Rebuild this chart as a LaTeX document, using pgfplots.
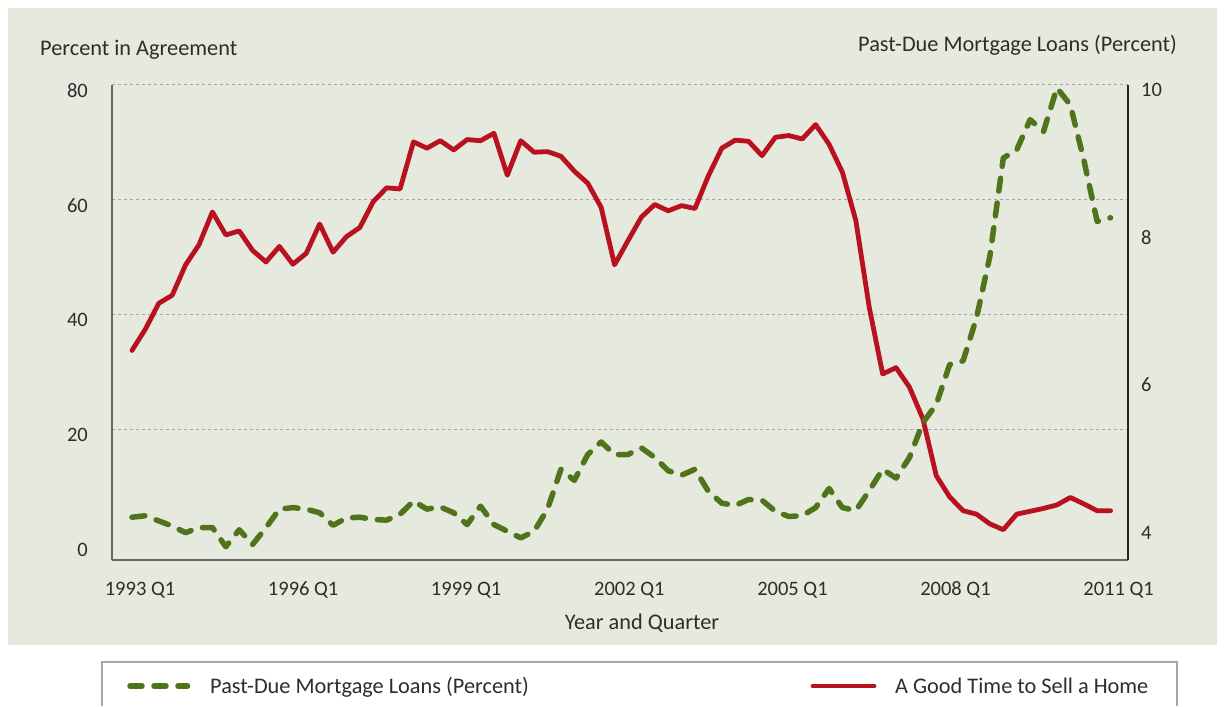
\documentclass[border=0pt]{standalone}
\usepackage{fontspec}
\setmainfont{Carlito}
\usepackage{pgfplots}
\usepackage{pgfplotstable}
\pgfplotsset{compat=1.18}

\definecolor{panelbg}{RGB}{230,233,221}
\definecolor{sellred}{RGB}{184,18,32}
\definecolor{loangreen}{RGB}{80,116,28}
\definecolor{txt}{RGB}{45,45,45}
\definecolor{gridgray}{RGB}{165,165,165}

% quarter index 0 = 1993 Q1
\pgfplotstableread{
q sell
0 33.8
1 37.5
2 42.0
3 43.4
4 48.7
5 52.2
6 57.9
7 53.9
8 54.6
9 51.2
10 49.2
11 51.9
12 48.8
13 50.7
14 55.8
15 50.9
16 53.6
17 55.2
18 59.7
19 62.1
20 61.9
21 70.1
22 69.0
23 70.3
24 68.7
25 70.5
26 70.3
27 71.6
28 64.3
29 70.3
30 68.3
31 68.4
32 67.6
33 65.0
34 62.9
35 58.7
36 48.7
37 52.9
38 57.0
39 59.2
40 58.1
41 59.0
42 58.5
43 64.2
44 69.0
45 70.4
46 70.2
47 67.7
48 70.9
49 71.2
50 70.6
51 73.1
52 69.7
53 64.8
54 56.4
55 41.3
56 29.7
57 30.8
58 27.4
59 21.9
60 12.0
61 8.3
62 5.9
63 5.3
64 3.6
65 2.6
66 5.3
67 5.8
68 6.3
69 6.9
70 8.2
71 7.1
72 5.9
73 5.9
}\selltable

\pgfplotstableread{
q pastdue
0 4.14
1 4.16
2 4.09
3 4.02
4 3.93
5 4.00
6 4.00
7 3.74
8 3.97
9 3.77
10 4.00
11 4.25
12 4.27
13 4.25
14 4.20
15 4.03
16 4.13
17 4.14
18 4.11
19 4.10
20 4.18
21 4.36
22 4.25
23 4.28
24 4.20
25 4.04
26 4.29
27 4.04
28 3.95
29 3.86
30 3.95
31 4.25
32 4.79
33 4.64
34 4.99
35 5.16
36 4.99
37 4.99
38 5.08
39 4.95
40 4.77
41 4.71
42 4.79
43 4.49
44 4.33
45 4.30
46 4.38
47 4.37
48 4.22
49 4.15
50 4.16
51 4.27
52 4.53
53 4.27
54 4.23
55 4.50
56 4.79
57 4.67
58 4.95
59 5.42
60 5.67
61 6.21
62 6.26
63 6.84
64 7.68
65 9.01
66 9.12
67 9.53
68 9.37
69 9.96
70 9.73
71 8.99
72 8.15
73 8.20
}\loantable

\pgfplotsset{
  /pgf/number format/assume math mode=true,
  base/.style={
    scale only axis, width=1016pt, height=475pt,
    at={(112pt,146pt)}, anchor=south west,
    xmin=-1.49, xmax=74.3, clip=false,
    major tick length=0pt,
    tick label style={font=\fontsize{20.5}{24}\selectfont, text=txt},
  },
}

\begin{document}
\begin{tikzpicture}[x=1pt, y=1pt, font=\fontsize{22.3}{26}\selectfont, text=txt]
\fill[white] (0,0) rectangle (1225,706);
\fill[panelbg] (8,61) rectangle (1217,698);

% legend box
\draw[gray!70, line width=1.2pt] (102,0) -- (102,44) -- (1177,44) -- (1177,0);
\draw[loangreen, line width=5.5pt, line cap=round, dash pattern=on 12pt off 12pt] (130,20) -- (187.5,20);
\node[anchor=base west, inner sep=0pt] at (210,12.5) {Past-Due Mortgage Loans (Percent)};
\draw[sellred, line width=4.8pt, line cap=round] (813,20) -- (874,20);
\node[anchor=base west, inner sep=0pt] at (895,12.5) {A Good Time to Sell a Home};

% axis titles
\node[anchor=base west, inner sep=0pt] at (40,650) {Percent in Agreement};
\node[anchor=base east, inner sep=0pt] at (1177,654) {Past-Due Mortgage Loans (Percent)};
\node[anchor=base, inner sep=0pt] at (642,77) {Year and Quarter};

\begin{axis}[base,
  axis x line*=bottom, axis y line*=left,
  x axis line style={-, draw=black!60, line width=1.6pt},
  y axis line style={-, draw=black!60, line width=1.3pt},
  ymin=-2.68, ymax=80,
  ytick={20,40,60,80},
  extra y ticks={0},
  extra y tick style={grid=none},
  ymajorgrids,
  grid style={gridgray, line width=1pt, dash pattern=on 3pt off 3pt},
  xtick={0.6,12.77,24.93,37.1,49.27,61.43,73.6},
  xticklabels={1993 Q1,1996 Q1,1999 Q1,2002 Q1,2005 Q1,2008 Q1,2011 Q1},
  xticklabel style={anchor=base, inner sep=0pt, yshift=-35.5pt},
  yticklabel style={anchor=east, inner sep=0pt, xshift=-24pt, yshift=-5.5pt},
]
\addplot[sellred, line width=4.8pt, line join=round, line cap=round] table[x=q, y=sell] {\selltable};
\end{axis}

\begin{axis}[base,
  axis x line=none, axis y line*=right,
  y axis line style={-, draw=black!85, line width=1.1pt},
  ymin=3.56, ymax=10,
  ytick={4,6,8,10},
  yticklabel style={anchor=west, inner sep=0pt, xshift=13pt, yshift=-5pt},
]
\addplot[loangreen, line width=5.5pt, line join=round, line cap=round, dash pattern=on 13pt off 12pt] table[x=q, y=pastdue] {\loantable};
\end{axis}
\end{tikzpicture}
\end{document}
